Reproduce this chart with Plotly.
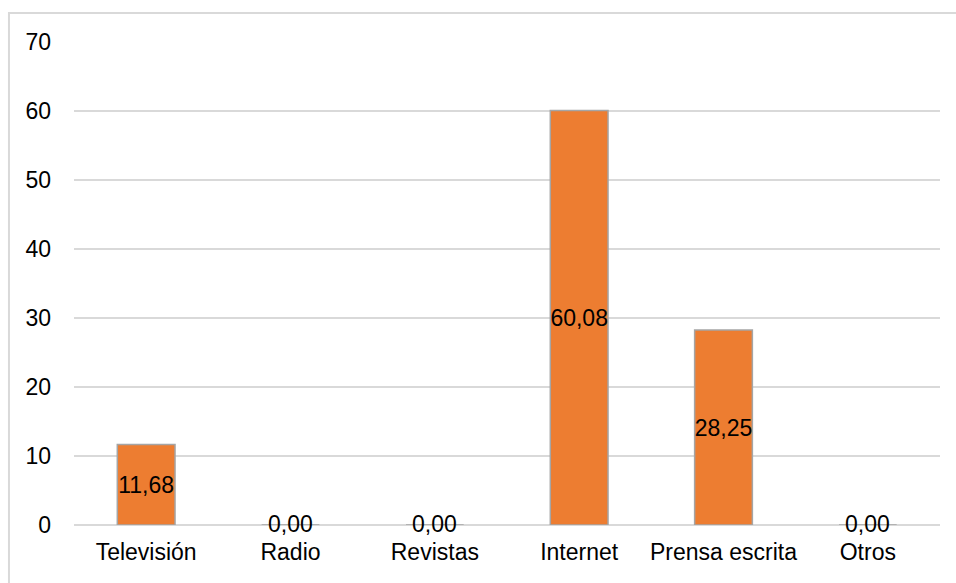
import plotly.graph_objects as go

categories = ["Televisión", "Radio", "Revistas", "Internet", "Prensa escrita", "Otros"]
values = [11.68, 0.00, 0.00, 60.08, 28.25, 0.00]
y_ticks = [0, 10, 20, 30, 40, 50, 60, 70]

FONT = "Liberation Sans Narrow, Arial Narrow, Liberation Sans, Arial, sans-serif"
FSIZE = 23

labels = [f"{v:.2f}".replace(".", ",") for v in values]
# Non-zero bars carry their label inside; zero bars get a label on the baseline
inside_text = [t if v > 0 else "" for t, v in zip(labels, values)]

fig = go.Figure(
    go.Bar(
        x=categories,
        y=values,
        text=inside_text,
        textposition="inside",
        insidetextanchor="middle",
        textangle=0,
        constraintext="none",
        insidetextfont=dict(family=FONT, size=FSIZE, color="#000000"),
        marker=dict(color="#ED7D31", line=dict(color="#A5A5A5", width=1.5)),
        width=0.4,
        cliponaxis=False,
    )
)

for cat, v, t in zip(categories, values, labels):
    if v == 0:
        fig.add_annotation(
            x=cat, y=v, text=t, showarrow=False,
            xanchor="center", yanchor="middle", yshift=1,
            font=dict(family=FONT, size=FSIZE, color="#000000"),
        )

fig.update_layout(
    width=956,
    height=583,
    margin=dict(l=74, r=16, t=42, b=58),
    paper_bgcolor="white",
    plot_bgcolor="white",
    showlegend=False,
    font=dict(family=FONT, size=FSIZE, color="#000000"),
    uniformtext=dict(mode=False),
)

fig.update_yaxes(
    range=[0, 70],
    tickvals=y_ticks,
    showgrid=True,
    gridcolor="#D9D9D9",
    gridwidth=1.5,
    zeroline=True,
    zerolinecolor="#D9D9D9",
    zerolinewidth=1.5,
    showline=False,
    ticks="",
    ticklabelstandoff=22,
    tickfont=dict(family=FONT, size=FSIZE, color="#000000"),
)
fig.update_xaxes(
    showgrid=False,
    showline=False,
    ticks="",
    ticklabelstandoff=11,
    tickfont=dict(family=FONT, size=FSIZE, color="#000000"),
)

# Light frame around the chart area
fig.add_shape(
    type="rect",
    xref="paper",
    yref="paper",
    x0=-0.0751,
    x1=1.03,
    y0=-0.15,
    y1=1.060,
    line=dict(color="#D9D9D9", width=2),
    fillcolor="rgba(0,0,0,0)",
    layer="below",
)

fig.write_html("out.html")
